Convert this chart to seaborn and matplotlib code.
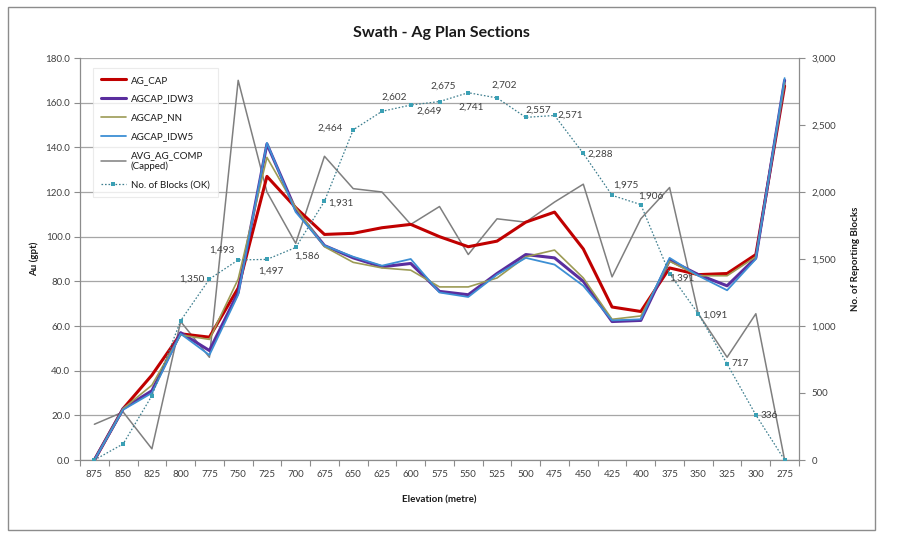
import numpy as np
import pandas as pd
import matplotlib
matplotlib.use("Agg")
import matplotlib.pyplot as plt
import seaborn as sns
from matplotlib.patches import Rectangle

# ---------------- data ----------------
elevations = [875, 850, 825, 800, 775, 750, 725, 700, 675, 650, 625, 600, 575,
              550, 525, 500, 475, 450, 425, 400, 375, 350, 325, 300, 275]
ag_cap = [0, 23, 38, 56.5, 55, 77, 127, 113, 101, 101.5, 104, 105.5, 100,
          95.5, 98, 106.5, 111, 94.5, 68.5, 66.5, 86, 83, 83.5, 92, 167.5]
agcap_idw3 = [0, 23, 31, 57, 49, 75, 141.5, 112, 96, 90.5, 86.5, 88, 75.5,
              74, 83.5, 92, 90.5, 80, 62, 62.5, 89.5, 83, 78, 90.5, 170]
agcap_nn = [0, 23, 33.5, 56, 54, 81, 135.5, 113, 95.5, 88.5, 86, 85, 77.5,
            77.5, 81.5, 91, 94, 81.5, 63, 64.5, 89, 82.5, 82.5, 91, 169]
agcap_idw5 = [0, 22.5, 30, 56.5, 47, 74, 142, 111, 96, 91, 87, 90, 75,
              73, 83, 90.5, 87.5, 78, 62.5, 63, 90.5, 82.5, 76, 90, 171]
avg_ag_comp = [16, 21.5, 5, 62, 46, 170, 120, 97, 136, 121.5, 120, 105.5, 113.5,
               92, 108, 106.5, 115.5, 123.5, 82, 108, 122, 65.5, 46, 65.5, 0]
blocks_ok = [0, 120, 480, 1040, 1350, 1493, 1497, 1586, 1931, 2464, 2602, 2649, 2675,
             2741, 2702, 2557, 2571, 2288, 1975, 1906, 1391, 1091, 717, 336, 0]
labelled = list(range(4, 24))  # indices with data labels

# label offsets (pixels) for the block-count labels, by index
label_offsets = {4: (-18, 0), 5: (-16, 10), 6: (4, -12), 7: (11, -9), 8: (16, -2),
                 9: (-23, 2), 10: (12, 14), 11: (18, -6), 12: (4, 15), 13: (3, -14),
                 14: (7, 13), 15: (13, 7), 16: (16, 0), 17: (17, -1), 18: (14, 10),
                 19: (10, 8), 20: (12, -5), 21: (17, -1), 22: (13, 0), 23: (13, -1)}

sns.set_theme(style="white")
plt.rcParams['font.family'] = ['Lato', 'DejaVu Sans']

W, H = 916, 546
fig = plt.figure(figsize=(W / 100, H / 100), dpi=100)
fig.patch.set_facecolor("white")

# outer chart border
fig.patches.append(Rectangle((8 / W, 1 - 530 / H), 867 / W, 523 / H,
                             transform=fig.transFigure, fill=False,
                             edgecolor="#8c8c8c", lw=1.0))

ax = fig.add_axes([80 / W, 1 - 460 / H, 719 / W, 402 / H])
ax2 = ax.twinx()

pos = np.arange(len(elevations))
df = pd.DataFrame({"pos": pos, "AG_CAP": ag_cap, "AGCAP_IDW3": agcap_idw3,
                   "AGCAP_NN": agcap_nn, "AGCAP_IDW5": agcap_idw5,
                   "AVG_AG_COMP": avg_ag_comp, "blocks": blocks_ok})

styles = [("AG_CAP", "AG_CAP", "#C00000", 2.2),
          ("AGCAP_IDW3", "AGCAP_IDW3", "#5A2E9E", 2.2),
          ("AGCAP_NN", "AGCAP_NN", "#9C9B55", 1.2),
          ("AGCAP_IDW5", "AGCAP_IDW5", "#3D8FD4", 1.3),
          ("AVG_AG_COMP", "AVG_AG_COMP\n(Capped)", "#7F7F7F", 1.1)]
order_z = {"AG_CAP": 3, "AGCAP_IDW3": 4, "AGCAP_NN": 5, "AGCAP_IDW5": 6, "AVG_AG_COMP": 2}
for col, lab, colr, lw in styles:
    sns.lineplot(data=df, x="pos", y=col, ax=ax, color=colr, lw=lw, label=lab,
                 zorder=order_z[col], legend=False)

sns.lineplot(data=df, x="pos", y="blocks", ax=ax2, color="#3E7F8F", lw=0.9,
             linestyle=(0, (1.3, 1.5)), marker="s", markersize=2.6,
             markerfacecolor="#3AA0B5", markeredgewidth=0,
             label="No. of Blocks (OK)", legend=False)

for i in labelled:
    dx, dy = label_offsets[i]
    ax2.annotate(f"{blocks_ok[i]:,}", (pos[i], blocks_ok[i]), xytext=(dx, dy),
                 textcoords="offset pixels", ha="center", va="center",
                 fontsize=7.2, color="#404040")

# axes formatting
ax.set_xlim(-0.5, len(elevations) - 0.5)
ax.set_ylim(0, 180)
ax2.set_ylim(0, 3000)
ax.set_yticks(np.arange(0, 181, 20))
ax.set_yticklabels([f"{v:.1f}" for v in np.arange(0, 181, 20)])
ax2.set_yticks(np.arange(0, 3001, 500))
ax2.set_yticklabels([f"{v:,}" for v in range(0, 3001, 500)])
ax.set_xticks(pos)
ax.set_xticklabels([str(e) for e in elevations])
ax.set_xticks(np.arange(-0.5, len(elevations), 1), minor=True)

ax.grid(axis="y", color="#a6a6a6", lw=0.9)
ax.grid(axis="x", visible=False)
ax.set_axisbelow(True)
ax2.grid(False)

for a in (ax, ax2):
    for s in a.spines.values():
        s.set_visible(False)
ax.spines["left"].set_visible(True)
ax.spines["bottom"].set_visible(True)
ax2.spines["right"].set_visible(True)
for s in (ax.spines["left"], ax.spines["bottom"], ax2.spines["right"]):
    s.set_color("#8c8c8c")
    s.set_linewidth(0.9)

ax.tick_params(axis="y", which="major", direction="out", length=4, width=0.8,
               color="#8c8c8c", labelsize=7, labelcolor="#404040", pad=3, left=True)
ax.tick_params(axis="x", which="major", length=0, labelsize=7, labelcolor="#404040", pad=7)
ax.tick_params(axis="x", which="minor", direction="out", length=4, width=0.8,
               color="#8c8c8c", bottom=True)
ax2.tick_params(axis="y", direction="out", length=4, width=0.8, color="#8c8c8c",
                labelsize=7, labelcolor="#404040", pad=5, right=True)

ax.set_xlabel("Elevation (metre)", fontsize=7, fontweight="bold", labelpad=12)
ax.set_ylabel("Au (gpt)", fontsize=7, fontweight="bold", labelpad=5)
ax2.set_ylabel("No. of Reporting Blocks", fontsize=7, fontweight="bold", labelpad=11)
ax.xaxis.label.set_color("#1a1a1a")
ax.yaxis.label.set_color("#1a1a1a")
ax2.yaxis.label.set_color("#1a1a1a")

fig.text(441 / W, 1 - 33 / H, "Swath - Ag Plan Sections", ha="center", va="center",
         fontsize=11.5, fontweight="bold", color="#1a1a1a")

h1, l1 = ax.get_legend_handles_labels()
h2, l2 = ax2.get_legend_handles_labels()
leg = ax2.legend(h1 + h2, l1 + l2, loc="upper left",
                 bbox_to_anchor=(93 / W, 1 - 68 / H), bbox_transform=fig.transFigure,
                 fontsize=7, frameon=True, fancybox=False, labelspacing=1.0,
                 handlelength=2.6, handletextpad=0.5, borderpad=0.8,
                 borderaxespad=0)
leg.get_frame().set_edgecolor("#e6e6e6")
leg.get_frame().set_linewidth(0.8)
for t in leg.get_texts():
    t.set_color("#1a1a1a")

fig.savefig("out.png", dpi=100, facecolor="white")
